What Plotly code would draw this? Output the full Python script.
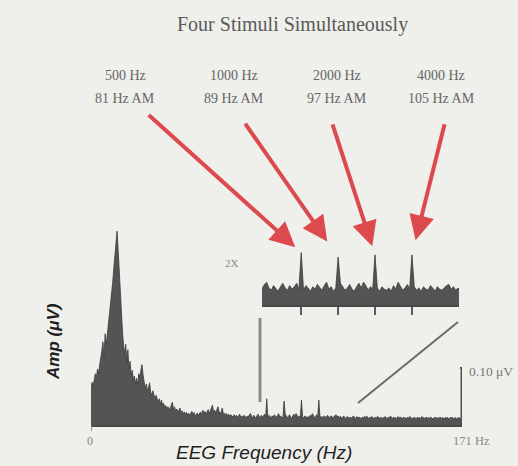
import numpy as np
import plotly.graph_objects as go

# ---------------- data ----------------
freq_step = 0.5  # Hz per spectral bin
amp_uv = [
    # 0.0 - 4.5 Hz
    0.060, 0.075, 0.068, 0.082, 0.090, 0.084, 0.098, 0.092, 0.110, 0.118,
    # 5.0 - 9.5
    0.130, 0.146, 0.118, 0.160, 0.140, 0.158, 0.170, 0.188, 0.205, 0.225,
    # 10 - 14.5
    0.250, 0.275, 0.300, 0.318, 0.340, 0.308, 0.268, 0.228, 0.198, 0.165,
    # 15 - 19.5
    0.140, 0.125, 0.142, 0.110, 0.132, 0.098, 0.112, 0.088, 0.096, 0.080,
    # 20 - 24.5
    0.086, 0.072, 0.082, 0.070, 0.090, 0.084, 0.096, 0.106, 0.088, 0.070,
    # 25 - 29.5
    0.064, 0.072, 0.060, 0.066, 0.074, 0.058, 0.052, 0.060, 0.050, 0.046,
    # 30 - 34.5
    0.052, 0.044, 0.040, 0.046, 0.036, 0.044, 0.034, 0.038, 0.030, 0.034,
    # 35 - 39.5
    0.028, 0.032, 0.026, 0.030, 0.036, 0.040, 0.028, 0.032, 0.025, 0.028,
    # 40 - 44.5
    0.026, 0.024, 0.030, 0.022, 0.025, 0.020, 0.023, 0.019, 0.022, 0.018,
    # 45 - 49.5
    0.021, 0.017, 0.020, 0.024, 0.018, 0.022, 0.016, 0.019, 0.021, 0.017,
    # 50 - 54.5
    0.020, 0.023, 0.018, 0.026, 0.021, 0.024, 0.019, 0.022, 0.027, 0.020,
    # 55 - 59.5
    0.024, 0.030, 0.035, 0.022, 0.026, 0.021, 0.028, 0.032, 0.024, 0.020,
    # 60 - 64.5
    0.023, 0.030, 0.019, 0.021, 0.017, 0.020, 0.016, 0.019, 0.015, 0.018,
    # 65 - 69.5
    0.016, 0.014, 0.018, 0.015, 0.017, 0.013, 0.016, 0.019, 0.014, 0.016,
    # 70 - 74.5
    0.013, 0.017, 0.015, 0.012, 0.016, 0.014, 0.018, 0.020, 0.015, 0.013,
    # 75 - 79.5
    0.017, 0.014, 0.012, 0.016, 0.019, 0.015, 0.013, 0.017, 0.014, 0.016,
    # 80 - 84.5  (81 Hz AM response)
    0.019, 0.014, 0.046, 0.013, 0.017, 0.015, 0.012, 0.016, 0.014, 0.018,
    # 85 - 89.5  (89 Hz AM response)
    0.015, 0.013, 0.017, 0.020, 0.014, 0.016, 0.012, 0.015, 0.042, 0.019,
    # 90 - 94.5
    0.016, 0.013, 0.015, 0.018, 0.014, 0.012, 0.016, 0.019, 0.015, 0.020,
    # 95 - 99.5  (97 Hz AM response)
    0.017, 0.013, 0.016, 0.014, 0.044, 0.015, 0.012, 0.016, 0.014, 0.013,
    # 100 - 104.5
    0.015, 0.012, 0.017, 0.014, 0.020, 0.016, 0.013, 0.015, 0.018, 0.014,
    # 105 - 109.5  (105 Hz AM response)
    0.044, 0.016, 0.013, 0.015, 0.012, 0.016, 0.014, 0.013, 0.017, 0.015,
    # 110 - 114.5
    0.012, 0.016, 0.014, 0.013, 0.015, 0.017, 0.018, 0.014, 0.016, 0.013,
    # 115 - 119.5
    0.015, 0.012, 0.014, 0.016, 0.013, 0.011, 0.015, 0.013, 0.012, 0.014,
    # 120 - 124.5
    0.012, 0.014, 0.016, 0.013, 0.011, 0.015, 0.012, 0.014, 0.013, 0.011,
    # 125 - 129.5
    0.014, 0.012, 0.015, 0.013, 0.016, 0.012, 0.011, 0.014, 0.012, 0.015,
    # 130 - 134.5
    0.013, 0.011, 0.014, 0.012, 0.015, 0.013, 0.012, 0.014, 0.011, 0.013,
    # 135 - 139.5
    0.012, 0.015, 0.013, 0.011, 0.014, 0.012, 0.016, 0.013, 0.011, 0.014,
    # 140 - 144.5
    0.012, 0.013, 0.011, 0.015, 0.012, 0.014, 0.013, 0.011, 0.014, 0.012,
    # 145 - 149.5
    0.013, 0.011, 0.014, 0.012, 0.015, 0.013, 0.011, 0.012, 0.014, 0.012,
    # 150 - 154.5
    0.011, 0.014, 0.012, 0.013, 0.011, 0.015, 0.012, 0.013, 0.011, 0.014,
    # 155 - 159.5
    0.012, 0.013, 0.011, 0.014, 0.012, 0.011, 0.013, 0.012, 0.014, 0.011,
    # 160 - 164.5
    0.013, 0.012, 0.014, 0.011, 0.013, 0.012, 0.011, 0.014, 0.012, 0.013,
    # 165 - 169.5
    0.011, 0.013, 0.012, 0.014, 0.011, 0.012, 0.013, 0.011, 0.012, 0.013,
    # 170 - 171
    0.012, 0.011, 0.013,
]
freq_hz = np.arange(len(amp_uv)) * freq_step

carrier_labels = ["500 Hz", "1000 Hz", "2000 Hz", "4000 Hz"]
am_labels = ["81 Hz AM", "89 Hz AM", "97 Hz AM", "105 Hz AM"]
am_freqs = [81, 89, 97, 105]

x_range_main = [0, 171]
y_range_main = [0, 0.3596]
x_range_inset = [72.5, 115.2]
inset_gain = 2
scale_bar_uv = 0.10

# ---------------- layout helpers ----------------
W, H = 518, 466
def px(x):
    return x / W
def py(y):
    return 1 - y / H

SERIF = "Liberation Serif, Times New Roman, serif"
SANS = "Liberation Sans, Arial, sans-serif"

fig = go.Figure()

spec_style = dict(mode="lines", fill="tozeroy", line=dict(color="#3a3a3a", width=0.8),
                  fillcolor="#545454", hoverinfo="skip", showlegend=False)

fig.add_trace(go.Scatter(x=freq_hz, y=amp_uv, xaxis="x", yaxis="y", **spec_style))
fig.add_trace(go.Scatter(x=freq_hz, y=amp_uv, xaxis="x2", yaxis="y2", **spec_style))

inset_top_uv = y_range_main[1] * (305 - 240) / (425 - 220) / inset_gain

fig.update_layout(
    width=W, height=H,
    margin=dict(l=0, r=0, t=0, b=0),
    paper_bgcolor="#efefec",
    plot_bgcolor="rgba(0,0,0,0)",
    xaxis=dict(domain=[px(91), px(462)], range=x_range_main, showgrid=False, zeroline=False,
               showline=True, linecolor="#4a4a4a", linewidth=2, showticklabels=False,
               ticks="", fixedrange=True),
    yaxis=dict(domain=[py(425), py(220)], range=y_range_main, visible=False, fixedrange=True),
    xaxis2=dict(domain=[px(262), px(459)], range=x_range_inset, anchor="y2", showgrid=False,
                zeroline=False, showline=True, linecolor="#4a4a4a", linewidth=2,
                tickmode="array", tickvals=am_freqs, ticks="outside", ticklen=8,
                tickwidth=2, tickcolor="#5a5a5a", showticklabels=False, fixedrange=True),
    yaxis2=dict(domain=[py(305), py(240)], range=[0, inset_top_uv], anchor="x2", visible=False,
                fixedrange=True),
)

shapes = []
# scale bar at 171 Hz
shapes.append(dict(type="line", xref="x", yref="y", x0=x_range_main[1], x1=x_range_main[1],
                   y0=-0.008, y1=scale_bar_uv, line=dict(color="#505050", width=3)))
shapes.append(dict(type="line", xref="x", yref="y", x0=x_range_main[1] - 0.9, x1=x_range_main[1],
                   y0=scale_bar_uv, y1=scale_bar_uv, line=dict(color="#505050", width=2)))
# small tick at 0
shapes.append(dict(type="line", xref="x", yref="paper", x0=0, x1=0, y0=py(425), y1=py(431),
                   line=dict(color="#777777", width=1.5)))
# zoom indicator lines
shapes.append(dict(type="line", xref="paper", yref="paper", x0=px(260), x1=px(260),
                   y0=py(402), y1=py(318), line=dict(color="#8a8a8a", width=3)))
shapes.append(dict(type="line", xref="paper", yref="paper", x0=px(358), x1=px(458),
                   y0=py(403), y1=py(322), line=dict(color="#6a6a6a", width=2)))
fig.update_layout(shapes=shapes)

def text_ann(text, x, y, size, color, family=SERIF, xanchor="center", **kw):
    return dict(text=text, x=px(x), y=py(y), xref="paper", yref="paper", showarrow=False,
                xanchor=xanchor, yanchor="middle", font=dict(family=family, size=size, color=color),
                **kw)

ann = []
ann.append(text_ann("Four Stimuli Simultaneously", 292, 25, 20, "#5a5a5a"))
label_x = [125, 234, 337, 441]
for lx, c, a in zip(label_x, carrier_labels, am_labels):
    ann.append(text_ann(c, lx, 76, 14, "#666666"))
    ann.append(text_ann(a, lx, 99, 14, "#666666"))

# red arrows pointing at AM responses in the inset
arrow_ax = [-154, -94, -43, 33]
arrow_ay = [-139, -135, -132, -132]
arrow_standoff = [8, 19, 9, 15]
amp_lookup = dict(zip(freq_hz.tolist(), amp_uv))
for f, axp, ayp, so in zip(am_freqs, arrow_ax, arrow_ay, arrow_standoff):
    ann.append(dict(text="", x=f, y=amp_lookup[float(f)], xref="x2", yref="y2",
                    showarrow=True, ax=axp, ay=ayp, axref="pixel", ayref="pixel",
                    arrowhead=2, arrowsize=1.25, arrowwidth=4, arrowcolor="#dd4a4e",
                    standoff=so))

ann.append(text_ann("2X", 232, 263, 11, "#8a8a8a"))
ann.append(text_ann("0.10 μV", 467, 371, 13.5, "#777777", xanchor="left"))
ann.append(text_ann("0", 90, 441, 12, "#888888"))
ann.append(text_ann("171 Hz", 471, 441, 12.5, "#888888"))
ann.append(text_ann("<i>EEG Frequency (Hz)</i>", 264, 452, 19, "#1e1e1e", family=SANS))
ann.append(text_ann("<b><i>Amp (μV)</i></b>", 53, 342, 17, "#1e1e1e", family=SANS, textangle=-90))
fig.update_layout(annotations=ann)

fig.write_html("out.html", config={"displayModeBar": False},
               post_script="document.body.style.margin='0';")
